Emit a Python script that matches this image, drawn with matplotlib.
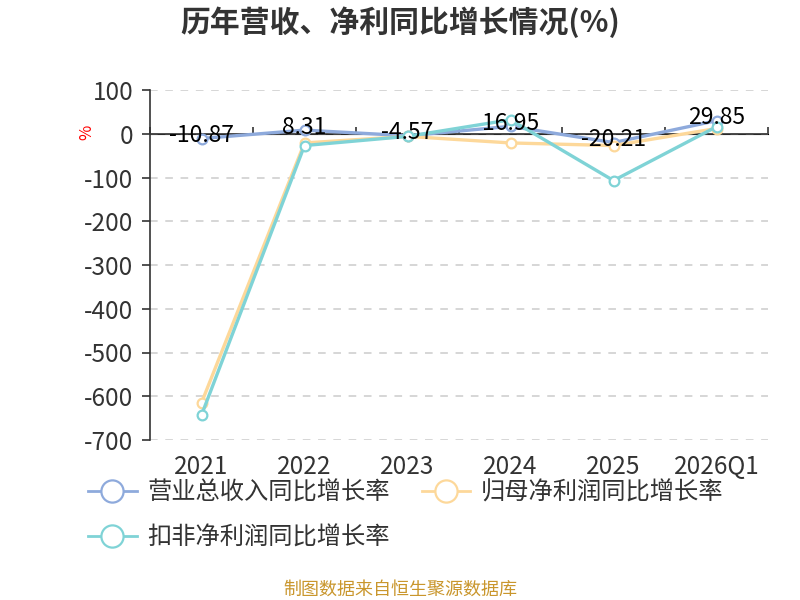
import matplotlib
matplotlib.use("Agg")
import matplotlib.pyplot as plt
from matplotlib.lines import Line2D

plt.rcParams['font.family'] = ['Noto Sans CJK SC', 'DejaVu Sans']

categories = ['2021', '2022', '2023', '2024', '2025', '2026Q1']
revenue = [-10.87, 8.31, -4.57, 16.95, -20.21, 29.85]
net_profit = [-615, -21, -6, -21, -27, 12]
deducted_profit = [-643, -27, -6, 32, -107, 16]
series_names = ['营业总收入同比增长率', '归母净利润同比增长率', '扣非净利润同比增长率']
colors = ['#8eaadc', '#fdd89a', '#7fd3d6']
yticks = [100, 0, -100, -200, -300, -400, -500, -600, -700]

fig = plt.figure(figsize=(8, 6), dpi=100)
ax = fig.add_axes([150/800, 1-440/600, 618/800, 350/600])
x = list(range(len(categories)))

for vals, c, z in zip([revenue, net_profit, deducted_profit], colors, [3, 4, 5]):
    ax.plot(x, vals, color=c, lw=2.4, marker='o', ms=7, mfc='white', mec=c, mew=1.6, zorder=z)

for xi, v in zip(x, revenue):
    ax.annotate(f'{v:.2f}', (xi, v), xytext=(0, 2), textcoords='offset points',
                ha='center', va='center', fontsize=16.5, color='black', zorder=10)

ax.set_xlim(-0.5, len(categories)-0.5)
ax.set_ylim(-700, 100)
ax.set_yticks(yticks)
ax.set_yticklabels([str(t) for t in yticks], fontsize=17.5, color='#333333')
for t in yticks:
    ax.axhline(t, color='#cccccc', lw=1.1, ls=(0, (5, 5)), zorder=1)
ax.tick_params(axis='y', length=6, width=1.2, color='#333333', pad=6)
ax.set_xticks(x)
ax.set_xticklabels(categories, fontsize=17.5, color='#333333')
ax.tick_params(axis='x', length=0, pad=10)
for s in ['top', 'right', 'bottom']:
    ax.spines[s].set_visible(False)
ax.spines['left'].set_color('#333333')
ax.spines['left'].set_linewidth(1.2)
ax.axhline(0, color='#333333', lw=1.2, zorder=2)

sec = ax.secondary_xaxis(700/800)
sec.set_xticks([i - 0.5 for i in range(len(categories)+1)])
sec.set_xticklabels([])
sec.tick_params(axis='x', direction='out', length=5, width=1.2, color='#333333')
sec.spines['bottom'].set_visible(False)

fig.text(87/800, 1-132/600, '%', color='red', fontsize=12, rotation=90, ha='center', va='center')
fig.text(0.5, 1-22/600, '历年营收、净利同比增长情况(%)', fontsize=21.5, fontweight='bold',
         color='#333333', ha='center', va='center')
fig.text(0.5, 1-590/600, '制图数据来自恒生聚源数据库', fontsize=13, color='#c9962c',
         ha='center', va='center')

handles = [Line2D([0], [0], color=c, lw=2, marker='o', ms=16, mfc='white', mec=c, mew=1.6)
           for c in colors]
order = [0, 2, 1]
leg = fig.legend([handles[i] for i in order], [series_names[i] for i in order], ncol=2,
                 loc='upper left', bbox_to_anchor=(88/800, 1-480/600), frameon=False,
                 fontsize=17.5, handlelength=2.0, handletextpad=0.45, columnspacing=1.3,
                 labelspacing=0.75, borderaxespad=0, borderpad=0)
for t in leg.get_texts():
    t.set_color('#333333')

fig.savefig('out.png', dpi=100)
